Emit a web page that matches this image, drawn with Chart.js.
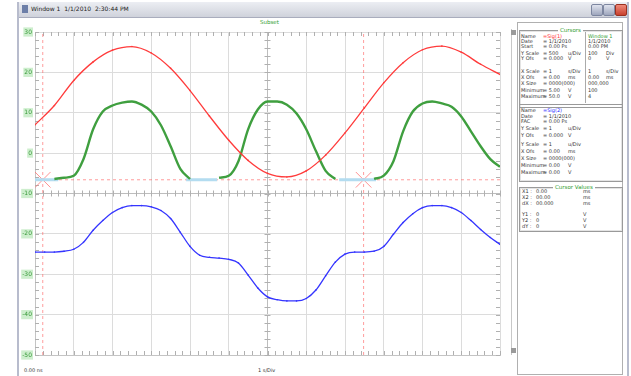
<!DOCTYPE html>
<html>
<head>
<meta charset="utf-8">
<script src="https://cdn.jsdelivr.net/npm/chart.js@4/dist/chart.umd.min.js"></script>
<style>
  body { margin: 0; width: 631px; height: 376px; background: #fff; position: relative; overflow: hidden; font-family: "DejaVu Sans", sans-serif; }
  .abs { position: absolute; }
  #win { left: 17px; top: 2px; width: 612px; height: 374px; border-left: 2px solid #b8bccd; border-right: 2px solid #b8bccd; box-sizing: border-box; }
  #titlebar { left: 19px; top: 2px; width: 608px; height: 15px; background: linear-gradient(#eceef3, #cfd2db); border-bottom: 1px solid #a9adbd; }
  #titlebar span { position: absolute; left: 12px; top: 3px; font-size: 6px; color: #222; }
  .btn { top: 4px; width: 10px; height: 10px; background: linear-gradient(#dfe3ee, #9ea6bd); border: 1px solid #7d86a0; border-radius: 2px; }
  .small { font-size: 5px; color: #333; white-space: nowrap; }
  .box { border: 1px solid #9a9a9a; box-shadow: 0 0 0 1px #e4e4e4 inset; }
  .gt { color: #2f9d2f; background: #fff; padding: 0 2px; font-size: 5.5px; }
</style>
</head>
<body>
<div id="win" class="abs"></div>
<div id="titlebar" class="abs"><div class="abs" style="left:3px;top:3px;width:6px;height:8px;background:#6d7fa8;"></div><span>Window 1 &nbsp;1/1/2010 &nbsp;2:30:44 PM</span></div>
<div class="abs btn" style="left:591px;"></div>
<div class="abs btn" style="left:603px;"></div>
<div class="abs btn" style="left:615px;background:linear-gradient(#f08a7a,#c8412f);border-color:#9a3020;"></div>

<div class="abs gt" style="left:258px;top:19px;font-size:5.5px;">Subset</div>
<div class="abs small" style="left:24px;top:367px;">0.00 ns</div>
<div class="abs small" style="left:258px;top:367px;">1 s/Div</div>

<!-- scroll bar next to the plot -->
<div class="abs" style="left:511px;top:29px;width:5px;height:326px;border-left:1px solid #c8c8c8;border-right:1px solid #c8c8c8;"></div>
<div class="abs" style="left:511px;top:30px;width:5px;height:5px;background:#9a9a9a;"></div>
<div class="abs" style="left:511px;top:348px;width:5px;height:5px;background:#9a9a9a;"></div>

<canvas id="scope" class="abs" style="left:17px;top:20px;" width="495" height="356"></canvas>

<!-- side panel -->
<div class="abs" style="left:517px;top:22px;width:106px;height:353px;border:1px solid #b0b0b0;box-sizing:border-box;"></div>
<div class="abs box" style="left:519px;top:30px;width:102px;height:150px;"></div>
<div class="abs" style="left:519px;top:104px;width:103px;height:2px;border-top:1px solid #999;border-bottom:1px solid #999;"></div>
<div class="abs" style="left:585px;top:32px;width:1px;height:71px;background:#aaa;"></div>
<div class="abs gt" style="left:558px;top:27px;">Cursors</div>
<div class="abs box" style="left:519px;top:187px;width:102px;height:43px;"></div>
<div class="abs gt" style="left:553px;top:184px;">Cursor Values</div>
<div id="panel"></div>

<script>
// time axis: 1 s/Div, 12 divisions
const xMin = 0, xMax = 12;
const yTicks = [30, 20, 10, 0, -10, -20, -30, -40, -50];

// red trace, every 0.5 s
const redStep = 0.5;
const redVals = [7.0, 11.8, 18.0, 22.6, 25.5, 26.4, 24.8, 21.0, 15.5, 9.2, 3.2, -1.8, -5.0,
  -5.9, -4.4, -0.5, 5.0, 11.2, 17.4, 22.4, 25.6, 26.5, 25.0, 22.0, 19.5];

// green trace, every 0.25 s (null = not drawn)
const greenStep = 0.25;
const greenVals = [null, null, -6.4, -6.1, -5.6, -1.5, 5.9, 10.3, 11.8, 12.5, 12.8, 12.0, 10.3,
  6.9, 1.7, -3.9, -6.4, null, null, -6.1, -5.6, -2.0, 5.9, 10.8, 12.8, 12.8, 12.0, 9.8,
  5.9, 0.5, -4.4, -6.4, null, null, null, -6.4, -5.6, -2.0, 5.4, 10.3, 12.3, 12.8, 12.3,
  11.5, 9.1, 5.4, 1.7, -1.5, -3.4];

// blue trace, every 0.25 s
const blueStep = 0.25;
const blueVals = [-24.5, -24.5, -24.5, -24.3, -23.8, -22.1, -19.1, -16.7, -14.7, -13.5, -13.0,
  -13.0, -13.3, -14.2, -16.2, -19.6, -23.1, -25.3, -25.8, -26.0, -26.3, -27.2, -30.2, -33.4,
  -35.6, -36.3, -36.6, -36.6, -36.0, -33.9, -30.4, -27.0, -25.0, -24.5, -24.5, -24.3, -23.1,
  -20.1, -17.2, -15.0, -13.5, -13.0, -13.0, -13.5, -14.7, -16.7, -18.9, -20.9, -22.6];

// light blue baseline pieces (start, end) at baseline level
const baseLevel = -6.6;
const baseSegs = [[0, 0.6], [3.9, 4.7], [7.85, 8.8]];

// cursors
const cursorX = [0.2, 8.48];
const cursorY = -6.6;

const toPts = (vals, step) => vals.map((v, i) => ({ x: i * step, y: v }));

const basePts = [];
baseSegs.forEach(s => { basePts.push({ x: s[0], y: baseLevel }, { x: s[1], y: baseLevel }, { x: s[1], y: null }); });

const cursorColor = 'rgba(255,90,90,0.6)';
const cursorSets = cursorX.map(cx => ({
  data: [{ x: cx, y: -50 }, { x: cx, y: 30 }],
  borderColor: cursorColor, borderWidth: 1, borderDash: [3, 3], pointRadius: 0
}));

// graticule minor ticks
const graticule = {
  id: 'graticule',
  beforeDatasetsDraw(chart) {
    const { ctx, chartArea: a, scales: { x, y } } = chart;
    const cx = x.getPixelForValue(6), cy = y.getPixelForValue(-10);
    ctx.save();
    ctx.strokeStyle = '#b0b0b0';
    ctx.lineWidth = 1;
    ctx.beginPath();
    for (let v = xMin; v <= xMax + 0.001; v += 0.2) {
      const px = Math.round(x.getPixelForValue(v)) + 0.5;
      ctx.moveTo(px, a.top); ctx.lineTo(px, a.top + 4);
      ctx.moveTo(px, a.bottom); ctx.lineTo(px, a.bottom - 4);
      ctx.moveTo(px, cy - 3); ctx.lineTo(px, cy + 3);
    }
    for (let v = -50; v <= 30.001; v += 2) {
      const py = Math.round(y.getPixelForValue(v)) + 0.5;
      ctx.moveTo(a.left, py); ctx.lineTo(a.left + 4, py);
      ctx.moveTo(a.right, py); ctx.lineTo(a.right - 4, py);
      ctx.moveTo(cx - 3, py); ctx.lineTo(cx + 3, py);
    }
    ctx.stroke();
    ctx.restore();
  }
};

new Chart(document.getElementById('scope'), {
  type: 'line',
  data: {
    datasets: [
      { data: toPts(redVals, redStep), borderColor: '#ff3b3b', borderWidth: 1.3, pointRadius: 0.8,
        pointBackgroundColor: '#ff3b3b', pointBorderWidth: 0, cubicInterpolationMode: 'monotone' },
      { data: toPts(greenVals, greenStep), borderColor: '#3f9f3f', borderWidth: 2.4, pointRadius: 0,
        cubicInterpolationMode: 'monotone', spanGaps: false },
      { data: toPts(blueVals, blueStep), borderColor: '#3535ff', borderWidth: 1.3, pointRadius: 0.8,
        pointBackgroundColor: '#3535ff', pointBorderWidth: 0, cubicInterpolationMode: 'monotone' },
      { data: basePts, borderColor: '#b3dcf0', borderWidth: 3, pointRadius: 0, spanGaps: false },
      { data: [{ x: xMin, y: cursorY }, { x: xMax, y: cursorY }], borderColor: cursorColor,
        borderWidth: 1, borderDash: [3, 3], pointRadius: 0 },
      ...cursorSets,
      { data: cursorX.map(cx => ({ x: cx, y: cursorY })), showLine: false, pointStyle: 'crossRot',
        pointRadius: 11, borderColor: 'rgba(255,110,110,0.75)', pointBorderWidth: 1 }
    ]
  },
  options: {
    responsive: false,
    animation: false,
    devicePixelRatio: 1,
    layout: { padding: { top: 9, right: 2, bottom: 21, left: 0 } },
    plugins: { legend: { display: false }, tooltip: { enabled: false } },
    scales: {
      x: {
        type: 'linear', min: xMin, max: xMax,
        ticks: { display: false, stepSize: 1 },
        grid: { drawTicks: false, color: c => c.tick && c.tick.value === 6 ? '#bdbdbd' : '#dcdcdc' },
        border: { color: '#c4c4c4' },
        afterFit: s => { s.height = 0; }
      },
      y: {
        type: 'linear', min: -50, max: 30,
        afterBuildTicks: s => { s.ticks = yTicks.map(v => ({ value: v })); },
        ticks: {
          color: '#3a9a3a', font: { size: 6, family: 'DejaVu Sans' }, padding: 3,
          showLabelBackdrop: true, backdropColor: 'rgba(200,236,200,0.9)', backdropPadding: 1
        },
        grid: { drawTicks: false, color: c => c.tick && c.tick.value === -10 ? '#bdbdbd' : '#dcdcdc' },
        border: { color: '#c4c4c4' },
        afterFit: s => { s.width = 18; }
      }
    }
  },
  plugins: [graticule]
});

// side panel text
const rowsTop = [
  [36, 'Name', '=Sig(1)', '', 'Window 1', '', '#ff3030'],
  [41, 'Date', '= 1/1/2010', '', '1/1/2010', ''],
  [46, 'Start', '= 0.00 Ps', '', '0.00 PM', ''],
  [53, 'Y Scale', '= 500', 'u/Div', '100', 'Div'],
  [58, 'Y Ofs', '= 0.000', 'V', '0', 'V'],
  [71, 'X Scale', '= 1', 's/Div', '1', 's/Div'],
  [77, 'X Ofs', '= 0.00', 'ms', '0.00', 'ms'],
  [83, 'X Size', '= 0000(000)', '', '000,000', ''],
  [90, 'Minimum', '= 5.00', 'V', '100', ''],
  [96, 'Maximum', '= 50.0', 'V', '4', '']
];
const rowsMid = [
  [110, 'Name', '=Sig(2)', '', '#3030ff'],
  [116, 'Date', '= 1/1/2010', ''],
  [121, 'FAC', '= 0.00 Ps', ''],
  [128, 'Y Scale', '= 1', 'u/Div'],
  [135, 'Y Ofs', '= 0.000', 'V'],
  [144, 'Y Scale', '= 1', 'u/Div'],
  [151, 'X Ofs', '= 0.00', 'ms'],
  [158, 'X Size', '= 0000(000)', ''],
  [165, 'Minimum', '= 0.00', 'V'],
  [172, 'Maximum', '= 0.00', 'V']
];
const rowsCur = [
  [191, 'X1 :', '0.00', 'ms'], [197, 'X2 :', '00.00', 'ms'], [203, 'dX :', '00.000', 'ms'],
  [214, 'Y1 :', '0', 'V'], [220, 'Y2 :', '0', 'V'], [226, 'dY :', '0', 'V']
];
const panel = document.getElementById('panel');
function put(x, y, txt, color) {
  if (!txt) return;
  const d = document.createElement('div');
  d.className = 'abs small';
  d.style.left = x + 'px'; d.style.top = (y - 3) + 'px';
  if (color) d.style.color = color;
  d.textContent = txt;
  panel.appendChild(d);
}
rowsTop.forEach(r => {
  put(521, r[0], r[1]); put(543, r[0], r[2], r[6]); put(568, r[0], r[3]);
  put(588, r[0], r[4], r[6] ? '#2f9d2f' : null); put(606, r[0], r[5]);
});
rowsMid.forEach(r => { put(521, r[0], r[1]); put(543, r[0], r[2], r[4]); put(568, r[0], r[3]); });
rowsCur.forEach(r => { put(522, r[0], r[1]); put(536, r[0], r[2]); put(583, r[0], r[3]); });
</script>
</body>
</html>
